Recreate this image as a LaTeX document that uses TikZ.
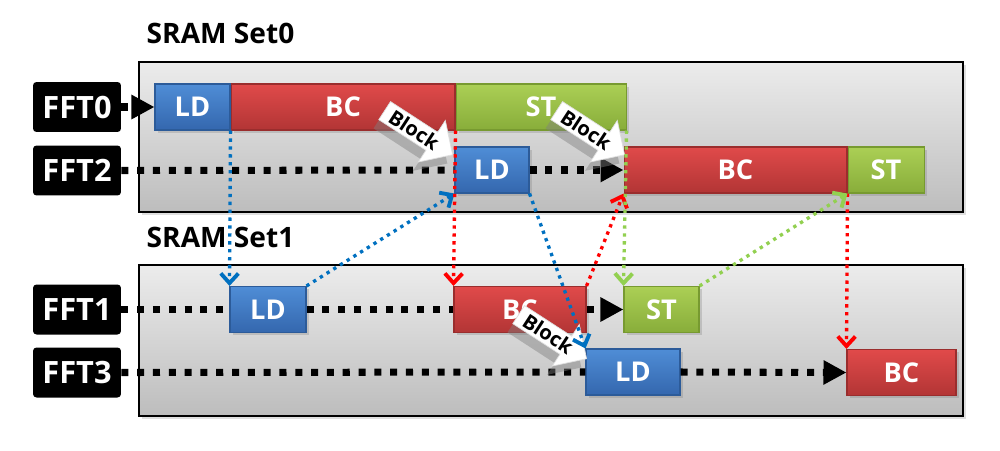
\documentclass[tikz,border=0pt]{standalone}
\usepackage{fontspec}
\setmainfont{Open Sans}
\usepackage{xcolor}
\usetikzlibrary{arrows.meta,positioning,shapes.arrows,shadows}
\definecolor{ldtop}{HTML}{4F8DD6}
\definecolor{ldbot}{HTML}{3467AE}
\definecolor{ldedge}{HTML}{2C5B99}
\definecolor{bctop}{HTML}{E04A4A}
\definecolor{bcbot}{HTML}{B23535}
\definecolor{bcedge}{HTML}{9A2D2D}
\definecolor{sttop}{HTML}{ABCF55}
\definecolor{stbot}{HTML}{88AD3A}
\definecolor{stedge}{HTML}{779A30}
\definecolor{depblue}{HTML}{0070C0}
\definecolor{depred}{HTML}{FF0000}
\definecolor{depgreen}{HTML}{92D050}

\begin{document}
\begin{tikzpicture}[
  x=0.02cm, y=-0.02cm,
  every node/.style={font=\bfseries},
  panel/.style={rectangle, draw=black, line width=0.8pt, top color=gray!15, bottom color=gray!52,
    minimum width=16.48cm, minimum height=3cm,
    drop shadow={opacity=0.25, shadow xshift=1.5pt, shadow yshift=-1.5pt}},
  settitle/.style={inner sep=0pt, anchor=south west, font=\fontsize{16}{18}\selectfont\bfseries},
  fftlabel/.style={rectangle, rounded corners=2pt, fill=black, text=white,
    minimum width=1.76cm, minimum height=1cm, font=\fontsize{17.5}{19}\selectfont\bfseries},
  task/.style={rectangle, minimum height=0.92cm, inner sep=0pt, text=white, line width=0.6pt,
    font=\fontsize{15.5}{17}\selectfont\bfseries,
    drop shadow={opacity=0.3, shadow xshift=1.5pt, shadow yshift=-1.5pt}},
  ldtask/.style={task, top color=ldtop, bottom color=ldbot, draw=ldedge},
  bctask/.style={task, top color=bctop, bottom color=bcbot, draw=bcedge},
  sttask/.style={task, top color=sttop, bottom color=stbot, draw=stedge},
  waitline/.style={line width=4pt, dash pattern=on 4pt off 5pt, black},
  waitarrow/.style={waitline, -{Triangle[length=0.46cm, width=0.46cm]}},
  depline/.style={line width=1.9pt, dash pattern=on 1.9pt off 2.6pt,
    -{Straight Barb[length=5.5pt, width=10pt, line width=2.2pt]}},
  blockarrow/.style={single arrow, fill=white, draw=gray!25, text=black, anchor=tip,
    font=\fontsize{11.5}{13}\selectfont\bfseries, inner sep=1.5pt, minimum height=1.62cm,
    single arrow head extend=0.28cm, single arrow head indent=0pt, rotate=-33,
    drop shadow={opacity=0.45, shadow xshift=-3pt, shadow yshift=-5pt}},
]
\useasboundingbox (0,0) rectangle (1000,450);

% SRAM sets
\node[panel] (set0) at (551,137) {};
\node[panel, minimum height=3.02cm] (set1) at (551,340.5) {};
\node[settitle, above right=0.34cm and 0.16cm of set0.north west] (title0) {SRAM Set0};
\node[settitle, above right=0.32cm and 0.16cm of set1.north west] (title1) {SRAM Set1};

% FFT labels
\node[fftlabel] (fft0) at (77,107) {FFT0};
\node[fftlabel] (fft2) at (77,170.5) {FFT2};
\node[fftlabel] (fft1) at (77,309.5) {FFT1};
\node[fftlabel] (fft3) at (77,372.5) {FFT3};

% Tasks of FFT0
\node[ldtask, minimum width=1.5cm] (ld0) at (192.5,107) {LD};
\node[bctask, minimum width=4.48cm, right=0pt of ld0] (bc0) {BC};
\node[sttask, minimum width=3.4cm, right=0pt of bc0] (st0) {ST};

% Tasks of FFT2
\node[ldtask, minimum width=1.48cm] (ld2) at (492,170) {LD};
\node[bctask, minimum width=4.46cm] (bc2) at (735.5,170) {BC};
\node[sttask, minimum width=1.52cm, right=0pt of bc2] (st2) {ST};

% Tasks of FFT1
\node[ldtask, minimum width=1.52cm] (ld1) at (268,309.5) {LD};
\node[bctask, minimum width=2.64cm] (bc1) at (520,309.5) {BC};
\node[sttask, minimum width=1.5cm] (st1) at (661.5,309.5) {ST};

% Tasks of FFT3
\node[ldtask, minimum width=1.88cm] (ld3) at (633,372) {LD};
\node[bctask, minimum width=2.18cm] (bc3) at (901.5,372.5) {BC};

% Waiting
\draw[waitarrow] (fft0.east) -- (ld0.west);
\draw[waitline] (fft2.east) -- (ld2.west);
\draw[waitarrow] (ld2.east) -- (bc2.west);
\draw[waitline] (fft1.east) -- (ld1.west);
\draw[waitline] (ld1.east) -- (bc1.west);
\draw[waitarrow] (bc1.east) -- (st1.west);
\draw[waitline] (fft3.east) -- (ld3.west);
\draw[waitarrow] (ld3.east) -- (bc3.west);

% Blocks
\node[blockarrow] (blk0) at (453,155) {Block};
\node[blockarrow] (blk1) at (625,155) {Block};
\node[blockarrow] (blk2) at (587,359) {Block};

% Dependencies
\draw[depline, depblue] (ld0.south east) -- (ld1.north west);
\draw[depline, depblue] (ld1.north east) -- (ld2.south west);
\draw[depline, depblue] (ld2.south east) -- (ld3.north west);
\draw[depline, depred] (bc0.south east) -- (bc1.north west);
\draw[depline, depred] (bc1.north east) -- (bc2.south west);
\draw[depline, depred] (bc2.south east) -- (bc3.north west);
\draw[depline, depgreen] (st0.south east) -- (st1.north west);
\draw[depline, depgreen] (st1.north east) -- (st2.south west);
\end{tikzpicture}
\end{document}
